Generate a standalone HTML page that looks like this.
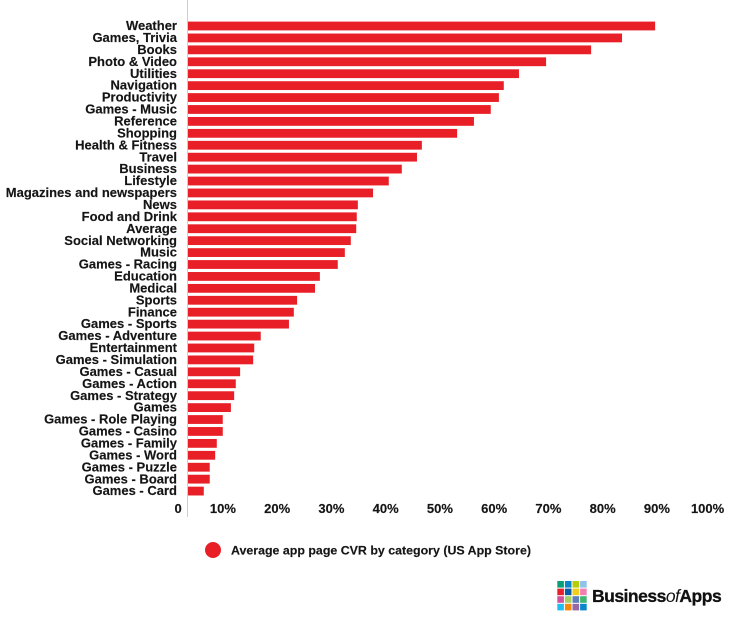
<!DOCTYPE html>
<html lang="en">
<head>
<meta charset="utf-8">
<title>Average app page CVR by category</title>
<style>
html,body{margin:0;padding:0;background:#fff;width:750px;height:626px;overflow:hidden}
svg{display:block}
text{font-family:"Liberation Sans",Arial,sans-serif;font-weight:700;fill:#151515;stroke:#151515;stroke-width:.15px}
</style>
</head>
<body>
<svg id="chart" width="750" height="626" viewBox="0 0 750 626" xmlns="http://www.w3.org/2000/svg">
  <g id="bars"></g>
  <g id="cat-labels"></g>
  <line x1="187.5" y1="0" x2="187.5" y2="517" stroke="#cfcfcf" stroke-width="1"></line>
  <g id="ticks"></g>
  <g>
    <circle cx="213" cy="550" r="8" fill="#e81f26"></circle>
    <text x="231" y="554.5" font-size="12.4">Average app page CVR by category (US App Store)</text>
  </g>
  <g id="logo">
    <g id="logo-squares"></g>
    <text x="592" y="602" font-size="17.5" letter-spacing="-0.5" style="fill:#111;stroke:#111;stroke-width:.3px">Business<tspan font-style="italic" font-weight="400" style="stroke-width:0">of</tspan>Apps</text>
  </g>
</svg>
<script>
const categories = ["Weather","Games, Trivia","Books","Photo & Video","Utilities","Navigation","Productivity","Games - Music","Reference","Shopping","Health & Fitness","Travel","Business","Lifestyle","Magazines and newspapers","News","Food and Drink","Average","Social Networking","Music","Games - Racing","Education","Medical","Sports","Finance","Games - Sports","Games - Adventure","Entertainment","Games - Simulation","Games - Casual","Games - Action","Games - Strategy","Games","Games - Role Playing","Games - Casino","Games - Family","Games - Word","Games - Puzzle","Games - Board","Games - Card"];
const cvrValues = [86.2,80.1,74.4,66.1,61.1,58.3,57.4,55.9,52.8,49.7,43.2,42.3,39.5,37.1,34.2,31.4,31.2,31.1,30.1,29.0,27.7,24.4,23.5,20.2,19.6,18.7,13.5,12.3,12.1,9.7,8.9,8.6,8.0,6.5,6.5,5.4,5.1,4.1,4.1,3.0];
const tickValues = [0,10,20,30,40,50,60,70,80,90,100];
const tickLabels = ["0","10%","20%","30%","40%","50%","60%","70%","80%","90%","100%"];
const logoColors = ["#0a9e78","#0b86c8","#b4cf0a","#8fc3ea","#e8202a","#0a5ca8","#f0cf1a","#f27fb0","#d4509a","#a8d060","#5f7fb8","#3fb56f","#22bdf0","#f58a0a","#9a68a8","#0a86cc"];

const NS = "http://www.w3.org/2000/svg";
function xScale(v){ return 187.5 + v * 5.425; }
function yScale(i){ return 26 + i * 11.925; }

const barsG = document.getElementById("bars");
const labelsG = document.getElementById("cat-labels");
categories.forEach(function(name, i){
  const r = document.createElementNS(NS, "rect");
  r.setAttribute("x", xScale(0));
  r.setAttribute("y", yScale(i) - 4.4);
  r.setAttribute("width", xScale(cvrValues[i]) - xScale(0));
  r.setAttribute("height", 8.8);
  r.setAttribute("fill", "#e81f26");
  
  
  barsG.appendChild(r);

  const t = document.createElementNS(NS, "text");
  t.setAttribute("x", 177);
  t.setAttribute("y", yScale(i) + 4.1);
  t.setAttribute("text-anchor", "end");
  t.setAttribute("font-size", "13");
  t.textContent = name;
  
  
  labelsG.appendChild(t);
});

const ticksG = document.getElementById("ticks");
tickValues.forEach(function(v, i){
  const t = document.createElementNS(NS, "text");
  t.setAttribute("x", xScale(v) - 5.8);
  t.setAttribute("y", 513);
  t.setAttribute("text-anchor", "end");
  t.setAttribute("font-size", "13");
  t.textContent = tickLabels[i];
  
  
  ticksG.appendChild(t);
});

const squaresG = document.getElementById("logo-squares");
logoColors.forEach(function(c, i){
  const s = document.createElementNS(NS, "rect");
  s.setAttribute("x", 557.3 + (i % 4) * 7.6);
  s.setAttribute("y", 581 + Math.floor(i / 4) * 7.6);
  s.setAttribute("width", 6.6);
  s.setAttribute("height", 6.6);
  s.setAttribute("fill", c);
  
  
  squaresG.appendChild(s);
});
</script>
</body>
</html>
